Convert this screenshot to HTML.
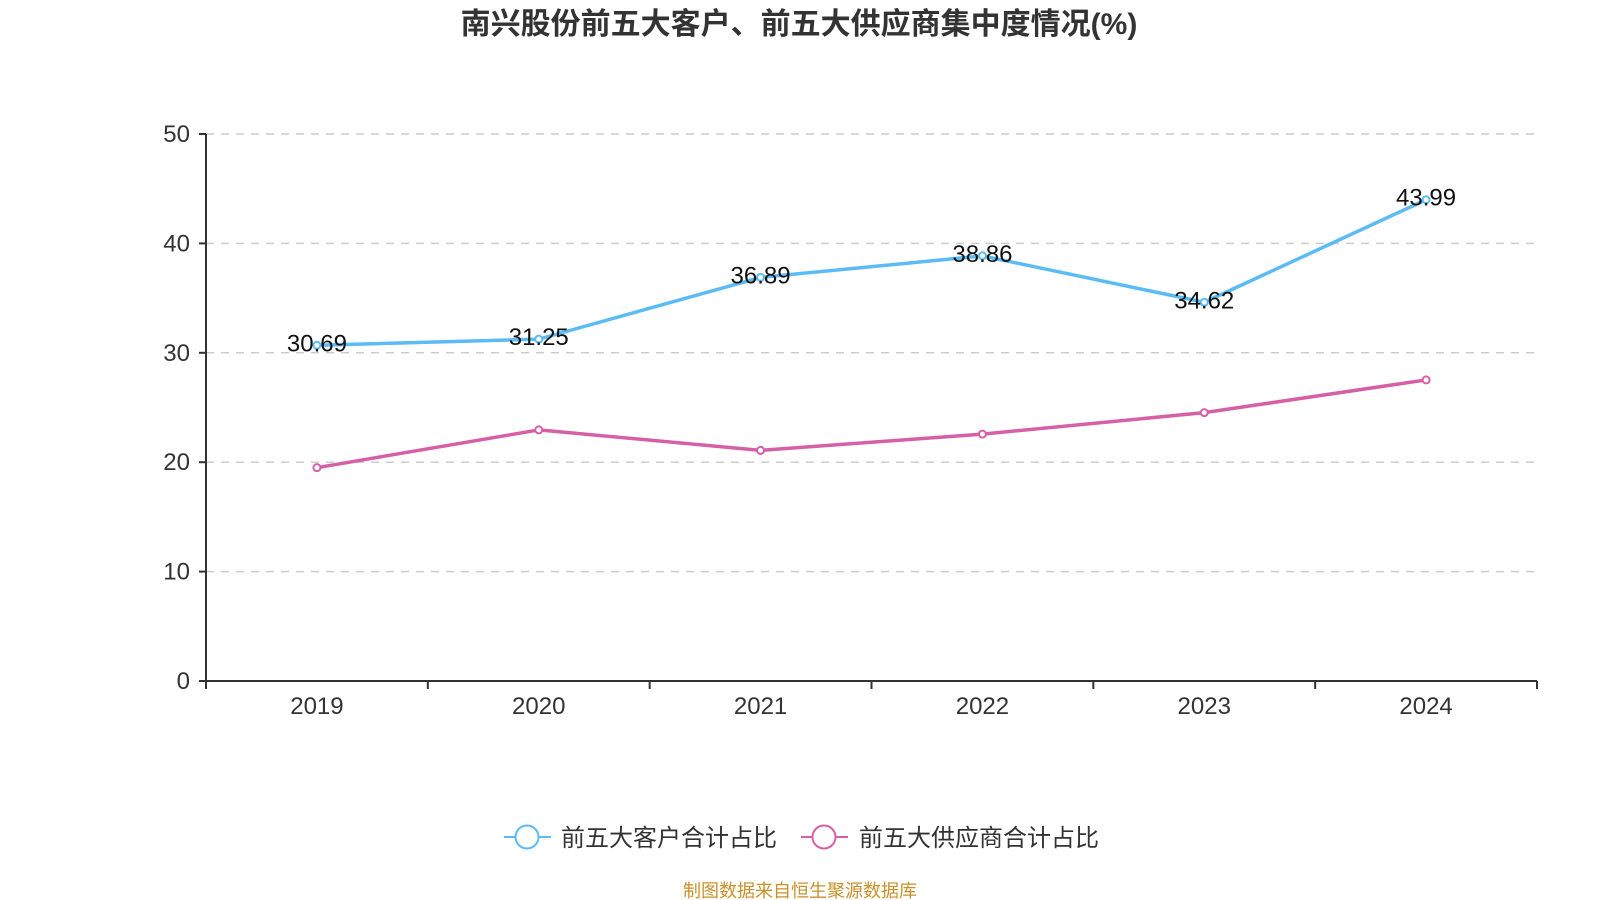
<!DOCTYPE html>
<html><head><meta charset="utf-8"><style>
html,body{margin:0;padding:0;background:#fff;}
svg{display:block;font-family:"Liberation Sans","Noto Sans CJK SC",sans-serif;}
</style></head><body>
<svg id="c" width="1600" height="900" viewBox="0 0 1600 900">
<text x="799" y="34" text-anchor="middle" font-size="30" font-weight="bold" fill="#333">南兴股份前五大客户、前五大供应商集中度情况(%)</text>
<g id="grid"></g><g id="axes"></g><g id="series"></g>
<g>
<g>
<line x1="504" y1="837" x2="551" y2="837" stroke="#5bbcf5" stroke-width="2"/>
<circle cx="527" cy="837" r="11.5" fill="#fff" stroke="#5bbcf5" stroke-width="2"/>
<text x="561" y="846" font-size="24" fill="#333">前五大客户合计占比</text></g>
<g>
<line x1="801" y1="837" x2="848" y2="837" stroke="#d660a8" stroke-width="2"/>
<circle cx="824" cy="837" r="11.5" fill="#fff" stroke="#d660a8" stroke-width="2"/>
<text x="859" y="846" font-size="24" fill="#333">前五大供应商合计占比</text></g>
</g>
<text x="800" y="897" text-anchor="middle" font-size="18" fill="#c8902a">制图数据来自恒生聚源数据库</text>
</svg>
<script>
const categories=["2019","2020","2021","2022","2023","2024"];
const customerValues=[30.69,31.25,36.89,38.86,34.62,43.99];
const supplierValues=[19.5,22.95,21.08,22.57,24.53,27.52];
const yTicks=[0,10,20,30,40,50];
const NS="http://www.w3.org/2000/svg";
const L=206,R=1537,T=134,B=681,YMAX=50;
const bw=(R-L)/categories.length;
const xS=i=>L+bw*(i+0.5);
const yS=v=>B-(v/YMAX)*(B-T);
function mk(tag,attrs,parent,txt){const e=document.createElementNS(NS,tag);for(const k in attrs)e.setAttribute(k,attrs[k]);if(txt!==undefined)e.textContent=txt;document.getElementById(parent).appendChild(e);return e;}
yTicks.forEach(t=>{
  const y=yS(t);
  if(t>0){const g=mk('line',{x1:L,x2:R,y1:y,y2:y,stroke:'#ccc','stroke-width':1.5,'stroke-dasharray':'8,7'},'grid');
  
  }
  const tk=mk('line',{x1:L-7,x2:L,y1:y,y2:y,stroke:'#333','stroke-width':2},'axes');
  
  
  const lb=mk('text',{x:L-16,y:y+8,'text-anchor':'end','font-size':24,fill:'#333'},'axes',t);
  
  
});
const ya=mk('line',{x1:L,x2:L,y1:T,y2:B,stroke:'#333','stroke-width':2},'axes');


const xa=mk('line',{x1:L,x2:R,y1:B,y2:B,stroke:'#333','stroke-width':2},'axes');


for(let i=0;i<=categories.length;i++){
  const x=L+bw*i;
  const tk=mk('line',{x1:x,x2:x,y1:B,y2:B+8,stroke:'#333','stroke-width':2},'axes');
  
  
}
categories.forEach((c,i)=>{
  const lb=mk('text',{x:xS(i),y:714,'text-anchor':'middle','font-size':24,fill:'#333'},'axes',c);
  
  
});
function series(vals,color,name,labels){
  const pts=vals.map((v,i)=>xS(i)+','+yS(v)).join(' ');
  const pl=mk('polyline',{points:pts,fill:'none',stroke:color,'stroke-width':3.5,'stroke-linejoin':'round'},'series');
  
  
  vals.forEach((v,i)=>{
    const c=mk('circle',{cx:xS(i),cy:yS(v),r:3.5,fill:'#fff',stroke:color,'stroke-width':2},'series');
    
    
    if(labels){
      const t=mk('text',{x:xS(i),y:yS(v)+6,'text-anchor':'middle','font-size':24,fill:'#111'},'series',v.toFixed(2));
      
      
    }
  });
}
series(supplierValues,'#d660a8','suppliers',false);
series(customerValues,'#5bbcf5','customers',true);
</script>
</body></html>
